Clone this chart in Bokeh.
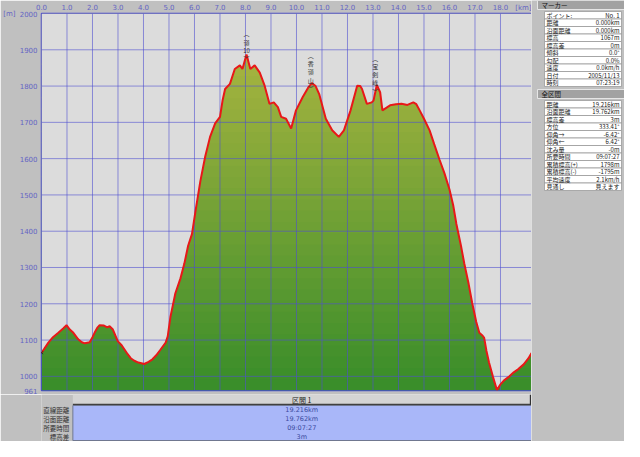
from bokeh.plotting import figure
from bokeh.models import Range1d, FixedTicker, LinearAxis
from bokeh.layouts import row, column
from bokeh.embed import file_html
from bokeh.resources import INLINE
from bokeh.core.properties import value
import numpy as np

# ---------------- data ----------------
km = [0.00, 0.10, 0.27, 0.45, 0.66, 0.85, 0.98, 1.11, 1.25, 1.44, 1.58, 1.70, 1.89, 2.00,
      2.08, 2.20, 2.28, 2.45, 2.58, 2.67, 2.80, 2.99, 3.15, 3.38, 3.50, 3.64, 3.80, 4.03,
      4.20, 4.35, 4.50, 4.67, 4.87, 4.95, 5.06, 5.25, 5.45, 5.60, 5.75, 5.90, 6.05, 6.23,
      6.42, 6.61, 6.81, 7.00, 7.10, 7.20, 7.39, 7.58, 7.78, 7.88, 8.04, 8.19, 8.36, 8.56,
      8.75, 8.94, 9.11, 9.27, 9.40, 9.59, 9.79, 9.98, 10.24, 10.45, 10.60, 10.75, 10.89,
      11.15, 11.40, 11.66, 11.86, 12.12, 12.38, 12.50, 12.57, 12.76, 12.95, 13.02, 13.15,
      13.28, 13.37, 13.67, 13.90, 14.12, 14.35, 14.58, 14.70, 14.83, 15.00, 15.22, 15.40,
      15.61, 15.80, 16.00, 16.15, 16.27, 16.45, 16.58, 16.75, 16.89, 17.05, 17.17, 17.30,
      17.36, 17.45, 17.55, 17.70, 17.86, 18.00, 18.14, 18.35, 18.52, 18.70, 18.91, 19.10,
      19.216]
elev = [1065, 1075, 1093, 1108, 1120, 1132, 1141, 1129, 1120, 1102, 1094, 1091, 1094, 1108,
        1120, 1135, 1141, 1140, 1135, 1138, 1129, 1097, 1085, 1061, 1050, 1043, 1038, 1034,
        1040, 1047, 1058, 1074, 1093, 1110, 1165, 1229, 1270, 1310, 1360, 1392, 1460, 1538,
        1606, 1660, 1697, 1715, 1760, 1792, 1806, 1847, 1857, 1847, 1887, 1847, 1857, 1837,
        1801, 1751, 1755, 1742, 1715, 1710, 1683, 1733, 1769, 1795, 1808, 1800, 1778,
        1710, 1678, 1660, 1678, 1733, 1801, 1800, 1792, 1751, 1755, 1760, 1803,
        1783, 1733, 1747, 1750, 1751, 1748, 1755, 1750, 1733, 1710, 1678, 1640,
        1597, 1560, 1515, 1470, 1420, 1360, 1311, 1255, 1202, 1150, 1120, 1112,
        1106, 1070, 1038, 1000, 962, 978, 989, 1000, 1011, 1020, 1033, 1050,
        1064]

km_ticks = list(range(19))
km_labels = [f"{k}.0" for k in km_ticks]
elev_ticks = [961] + list(range(1000, 2001, 100))
grid_elev = list(range(1000, 2001, 100))

peak_km = [8.04, 10.56, 13.09]
peak_top = [1956, 1896, 1888]
peak_chars = [["︵", "嶺", "10", "︶"], ["︵", "香", "嶺", "山", "︶"], ["︵", "宝", "剣", "峰", "︶"]]

marker_labels = ["ポイント:", "距離", "沿面距離", "標高", "標高差", "傾斜", "勾配", "速度", "日付", "時刻"]
marker_values = ["No. 1", "0.000km", "0.000km", "1067m", "0m", "0.0°", "0.0%", "0.0km/h", "2005/11/13", "07:23:19"]
total_labels = ["距離", "沿面距離", "標高差", "方位", "仰角→", "仰角←", "沈み量", "所要時間",
                "累積標高(+)", "累積標高(-)", "平均速度", "見通し"]
total_values = ["19.216km", "19.762km", "3m", "333.41°", "-6.42°", "6.42°", "-0m", "09:07:27",
                "1798m", "-1795m", "2.1km/h", "見えます"]

section_title = "区間 1"
section_labels = ["直線距離", "沿面距離", "所要時間", "標高差"]
section_values = ["19.216km", "19.762km", "09:07:27", "3m"]

# ---------------- style ----------------
FONT = "Noto Sans CJK JP"
NUMFONT = "DejaVu Sans"
OUTER = "#c0c0c0"
PLOTBG = "#dcdcdc"
TICKCOL = "#6464c4"

X0, X1 = 0, 19.216
Y0, Y1 = 961, 2000

# ---------------- main chart ----------------
main = figure(width=531, height=394, x_range=Range1d(X0, X1), y_range=Range1d(Y0, Y1),
              output_backend="svg", toolbar_location=None, x_axis_location="above",
              min_border_left=34, min_border_right=0, min_border_bottom=4, min_border_top=0)
main.background_fill_color = PLOTBG
main.border_fill_color = OUTER
main.outline_line_color = "#4848d8"
main.outline_line_width = 1.5
main.xgrid.visible = False
main.ygrid.visible = False

xa = main.xaxis[0]
xa.ticker = FixedTicker(ticks=km_ticks + [X1])
ov = {float(k): lab for k, lab in zip(km_ticks, km_labels)}
ov[X1] = "[km]"
xa.major_label_overrides = ov
ya = main.yaxis[0]
ya.ticker = FixedTicker(ticks=elev_ticks)
unit_axis = LinearAxis(ticker=FixedTicker(ticks=[Y1]), major_label_overrides={Y1: "[m]"})
main.add_layout(unit_axis, "left")
for ax in (xa, ya, unit_axis):
    ax.axis_line_color = None
    ax.major_tick_line_color = None
    ax.minor_tick_line_color = None
    ax.major_tick_out = 0
    ax.major_tick_in = 0
    ax.major_label_text_color = TICKCOL
    ax.major_label_text_font = NUMFONT
    ax.major_label_text_font_size = "7px"
xa.major_label_standoff = 2
ya.major_label_standoff = 4
unit_axis.major_label_standoff = 1

x = np.array(km, dtype=float)
e = np.array(elev, dtype=float)

# vertical colour gradient: horizontal bands across the frame, then mask above the profile
c_lo = np.array([58, 142, 42])
c_hi = np.array([166, 180, 64])
nb = 30
levels = np.linspace(Y0, 1890, nb + 1)
band_bottom = list(levels[:-1])
band_top = list(levels[1:] + 3.0)
band_top[-1] = Y1
band_cols = []
for i in range(nb):
    t = i / (nb - 1)
    col = tuple(int(v) for v in c_lo + (c_hi - c_lo) * t)
    band_cols.append("#%02x%02x%02x" % col)
main.quad(left=[X0] * nb, right=[X1] * nb, bottom=band_bottom, top=band_top,
          fill_color=band_cols, line_color=None)
main.varea(x=x, y1=e, y2=[Y1] * len(x), fill_color=PLOTBG, fill_alpha=1.0)

# grid lines over the fill
main.segment(x0=km_ticks, y0=[Y0] * len(km_ticks), x1=km_ticks, y1=[Y1] * len(km_ticks),
             line_color="#5050d0", line_alpha=0.6, line_width=1)
main.segment(x0=[X0] * len(grid_elev), y0=grid_elev, x1=[X1] * len(grid_elev), y1=grid_elev,
             line_color="#5050d0", line_alpha=0.6, line_width=1)

main.line(x=x, y=e, line_color="#e81818", line_width=2)
main.scatter(x=[km[0]], y=[elev[0]], marker="x", size=4, line_color="#202020", line_width=1)

main.text(x=peak_km, y=peak_top, text=["\n".join(c) for c in peak_chars],
          text_font=value(FONT), text_font_size="6px", text_align="center", text_baseline="top",
          text_color="#303030", text_line_height=0.9)

# ---------------- bottom panel ----------------
bot = figure(width=531, height=47, x_range=Range1d(0, 531), y_range=Range1d(47, 0),
             output_backend="svg", toolbar_location=None, x_axis_type=None, y_axis_type=None,
             min_border=0)
bot.background_fill_color = OUTER
bot.border_fill_color = OUTER
bot.outline_line_color = None
bot.xgrid.visible = False
bot.ygrid.visible = False
bot.quad(left=[34], right=[531], top=[0], bottom=[10], fill_color="#d4d4d4", line_color=None)
bot.segment(x0=[34], y0=[10], x1=[531], y1=[10], line_color="#404040", line_width=1.5)
bot.segment(x0=[530], y0=[0], x1=[530], y1=[10], line_color="#303030", line_width=1.5)
bot.quad(left=[34], right=[531], top=[11], bottom=[46], fill_color="#a9b7f9", line_color="#707890")
rows_y = [15 + 9 * i for i in range(len(section_labels))]
bot.text(x=[282], y=[5], text=[section_title], text_font=value(FONT), text_font_size="7px",
         text_align="center", text_baseline="middle", text_color="#202020")
bot.text(x=[282] * len(section_values), y=rows_y, text=section_values, text_font=value(NUMFONT),
         text_font_size="6.5px", text_align="center", text_baseline="middle", text_color="#3a4aa0")
bot.text(x=[30] * len(section_labels), y=rows_y, text=section_labels, text_font=value(FONT),
         text_font_size="6.5px", text_align="right", text_baseline="middle", text_color="#303030")

# ---------------- right panel ----------------
rp = figure(width=93, height=441, x_range=Range1d(0, 93), y_range=Range1d(441, 0),
            output_backend="svg", toolbar_location=None, x_axis_type=None, y_axis_type=None,
            min_border=0)
rp.background_fill_color = OUTER
rp.border_fill_color = OUTER
rp.outline_line_color = None
rp.xgrid.visible = False
rp.ygrid.visible = False

def panel(title, labels, values, y0, rh=7.5):
    rp.quad(left=[6], right=[93], top=[y0], bottom=[y0 + 9], fill_color="#a2a2a2", line_color="#e6e6e6")
    rp.text(x=[10], y=[y0 + 4.5], text=[title], text_font=value(FONT), text_font_size="6.5px",
            text_baseline="middle", text_color="#101010")
    ys = [y0 + 11 + rh * i for i in range(len(labels))]
    rp.quad(left=[13] * len(ys), right=[90] * len(ys), top=ys, bottom=[y + rh for y in ys],
            fill_color="#ffffff", line_color="#9a9a9a", line_width=0.8)
    rp.text(x=[15] * len(ys), y=[y + rh / 2 for y in ys], text=labels, text_font=value(FONT),
            text_font_size="6px", text_baseline="middle", text_color="#202020")
    rp.text(x=[88] * len(ys), y=[y + rh / 2 for y in ys], text=values, text_font=value(FONT),
            text_font_size="6px", text_baseline="middle", text_align="right", text_color="#202020")
    return ys[-1] + rh

end1 = panel("マーカー", marker_labels, marker_values, 0)
panel("全区間", total_labels, total_values, end1 + 3)

layout = row(column(main, bot), rp)
open("out.html", "w").write(file_html(layout, INLINE))
